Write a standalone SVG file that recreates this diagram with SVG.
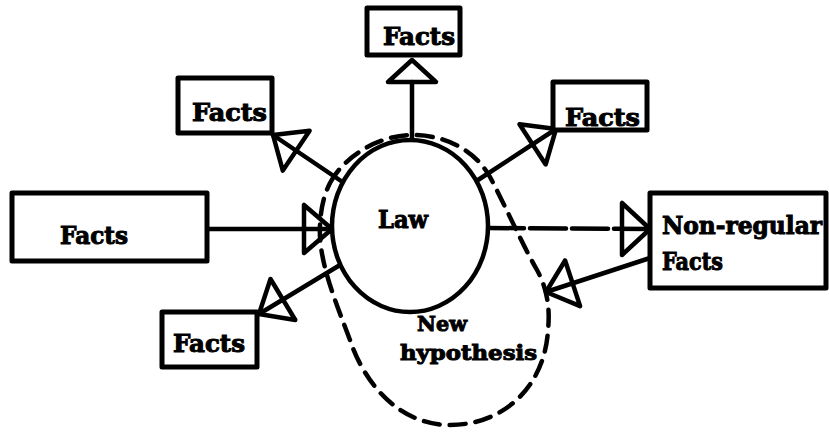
<svg xmlns="http://www.w3.org/2000/svg" width="829" height="432" viewBox="0 0 829 432">
  <style>
    .box { fill: #fff; stroke: #000; stroke-width: 5; stroke-linejoin: round; }
    .line { fill: none; stroke: #000; stroke-width: 4.5; stroke-linecap: round; }
    .head { fill: none; stroke: #000; stroke-width: 4.5; stroke-linejoin: round; }
    .loop { fill: none; stroke: #000; stroke-width: 4.5; stroke-dasharray: 16 10; stroke-linecap: round; }
    .lbl { font-family: "DejaVu Serif", "Liberation Serif", serif; font-weight: bold; font-size: 24px; fill: #000; stroke: #000; stroke-width: 1; }
    .small { font-size: 21px; }
  </style>
  <rect width="829" height="432" fill="#fff"/>

  <!-- dashed boundary of the new hypothesis -->
  <g id="hypothesis-loop">
    <path class="loop" d="M 330,183 C 345,155 380,135 413,135 C 445,135 475,150 490,177 C 505,205 520,240 537,270 C 548,290 550,310 548,330 C 545,385 505,425 450,425 C 400,425 365,385 350,340 C 335,300 318,260 320,225 C 321,205 325,193 330,183 Z"/>
    <text class="lbl small" x="417" y="331" textLength="50" lengthAdjust="spacingAndGlyphs">New</text>
    <text class="lbl small" x="400" y="360" textLength="137" lengthAdjust="spacingAndGlyphs">hypothesis</text>
  </g>

  <g id="connectors">
    <!-- law to top facts -->
    <line class="line" x1="412" y1="140" x2="412" y2="82"/>
    <polygon class="head" points="412,60 436,82 388,82"/>
    <!-- law to upper-left facts -->
    <line class="line" x1="344" y1="183" x2="273" y2="135"/>
    <polygon class="head" points="273,135 309.6,130.8 282.8,170.6"/>
    <!-- law to upper-right facts -->
    <line class="line" x1="478" y1="180" x2="556" y2="129"/>
    <polygon class="head" points="556,129 545.7,164.4 519.5,124.2"/>
    <!-- left facts to law -->
    <line class="line" x1="207" y1="229" x2="332" y2="229"/>
    <polygon class="head" points="332,229 304,205 304,253"/>
    <!-- law to lower-left facts -->
    <line class="line" x1="340" y1="265" x2="259" y2="314"/>
    <polygon class="head" points="259,314 295.3,320 270.5,279"/>
    <!-- law to non-regular facts -->
    <line class="line" x1="488" y1="228" x2="650" y2="229" stroke-dasharray="36 6" stroke-width="3.5"/>
    <polygon class="head" points="650,229 622,203 622,255"/>
    <!-- non-regular facts back to the new hypothesis -->
    <line class="line" x1="650" y1="258" x2="546" y2="292"/>
    <polygon class="head" points="546,292 580.1,306.1 565.1,260.5"/>
  </g>

  <g id="law">
    <ellipse cx="410" cy="226" rx="78" ry="86" fill="#fff" stroke="#000" stroke-width="4.5"/>
    <text class="lbl" x="378" y="228" textLength="50" lengthAdjust="spacingAndGlyphs">Law</text>
  </g>

  <g id="facts-top">
    <rect class="box" x="367" y="8" width="93" height="47"/>
    <text class="lbl" x="383" y="45" textLength="72" lengthAdjust="spacingAndGlyphs">Facts</text>
  </g>

  <g id="facts-upper-left">
    <rect class="box" x="178" y="78" width="94" height="55"/>
    <text class="lbl" x="192" y="121" textLength="75" lengthAdjust="spacingAndGlyphs">Facts</text>
  </g>

  <g id="facts-upper-right">
    <rect class="box" x="553" y="82" width="94" height="48"/>
    <text class="lbl" x="565" y="126" textLength="75" lengthAdjust="spacingAndGlyphs">Facts</text>
  </g>

  <g id="facts-left">
    <rect class="box" x="12" y="193" width="195" height="68"/>
    <text class="lbl" x="60" y="244" textLength="68" lengthAdjust="spacingAndGlyphs">Facts</text>
  </g>

  <g id="facts-lower-left">
    <rect class="box" x="162" y="312" width="95" height="55"/>
    <text class="lbl" x="173" y="352" textLength="72" lengthAdjust="spacingAndGlyphs">Facts</text>
  </g>

  <g id="non-regular-facts">
    <rect class="box" x="650" y="193" width="176" height="95"/>
    <text class="lbl" x="662" y="234" textLength="160" lengthAdjust="spacingAndGlyphs">Non-regular</text>
    <text class="lbl" x="662" y="270" textLength="61" lengthAdjust="spacingAndGlyphs">Facts</text>
  </g>
</svg>
